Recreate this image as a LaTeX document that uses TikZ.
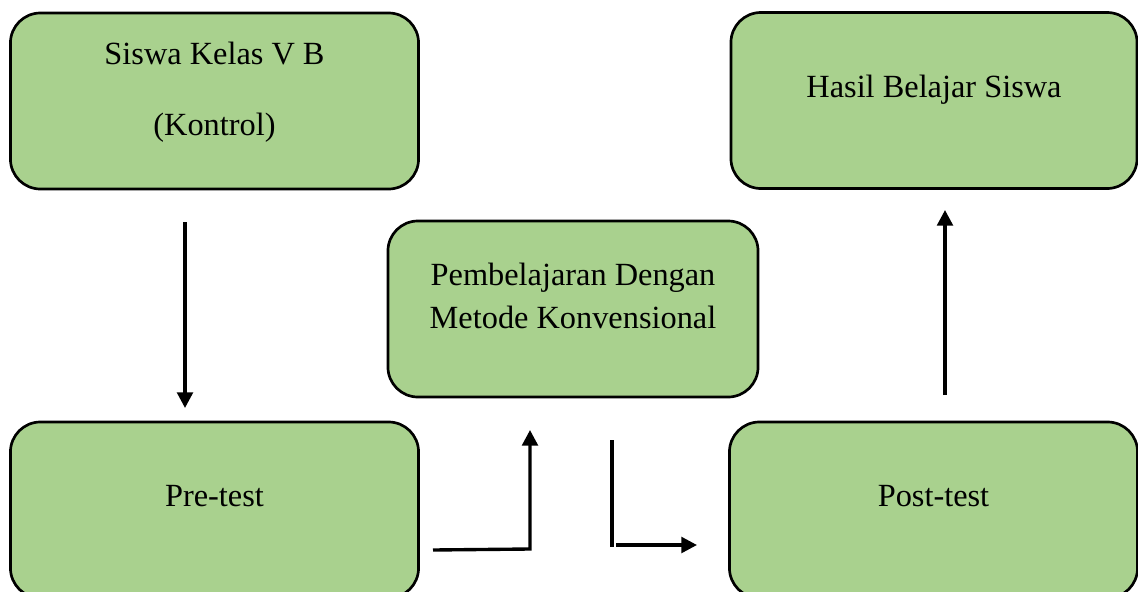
\documentclass[tikz,border=0pt]{standalone}
\usepackage{fontspec}
\setmainfont{Liberation Serif}
\usetikzlibrary{arrows.meta, positioning}
\definecolor{boxgreen}{RGB}{169,209,142}

\begin{document}
\begin{tikzpicture}[
    x=0.025cm, y=-0.025cm,
    box/.style={rectangle, rounded corners=0.75cm, draw=black, line width=1.9pt, fill=boxgreen, minimum height=4.4cm},
    boxtext/.style={align=center, font=\fontsize{23}{30.5}\selectfont, inner sep=0pt},
    arrow/.style={-{Triangle[length=3.9mm, width=3.9mm]}, line width=2.4pt},
    line/.style={line width=2.4pt}
]
\useasboundingbox (0,0) rectangle (1138,592);
\clip (0,0) rectangle (1138,592);

% Siswa kelas
\node[box, minimum width=10.2cm] (kelas) at (214.5,101) {};
\node[boxtext] (kelasTeks) at (214.5,92) {Siswa Kelas V B\\[20pt](Kontrol)};

% Hasil belajar
\node[box, minimum width=10.15cm] (hasil) at (934,100.5) {};
\node[boxtext] (hasilTeks) at (934,90) {Hasil Belajar Siswa};

% Pembelajaran
\node[box, minimum width=9.25cm] (metode) at (573,309) {};
\node[boxtext] (metodeTeks) at (573,296) {Pembelajaran Dengan\\Metode Konvensional};

% Pre-test
\node[box, minimum width=10.2cm] (pre) at (214.5,510) {};
\node[boxtext] (preTeks) at (214.5,496) {Pre-test};

% Post-test
\node[box, minimum width=10.2cm] (post) at (933.5,510) {};
\node[boxtext] (postTeks) at (933.5,496) {Post-test};

% Connectors
\coordinate (kelasOut) at (185,222);
\coordinate (preIn) at (185,408);
\draw[arrow] (kelasOut) -- (preIn);

\coordinate (preOut) at (433,550);
\coordinate (preBend) at (530,549);
\coordinate (metodeIn) at (530,430);
\draw[arrow] (preOut) -- (preBend) -- (metodeIn);

\coordinate (metodeOut) at (612,440);
\coordinate (metodeDown) at (612,547);
\draw[line] (metodeOut) -- (metodeDown);
\coordinate (postStart) at (616,545);
\coordinate (postIn) at (697,545);
\draw[arrow] (postStart) -- (postIn);

\coordinate (postOut) at (945,395);
\coordinate (hasilIn) at (945,210);
\draw[arrow] (postOut) -- (hasilIn);

\end{tikzpicture}
\end{document}
